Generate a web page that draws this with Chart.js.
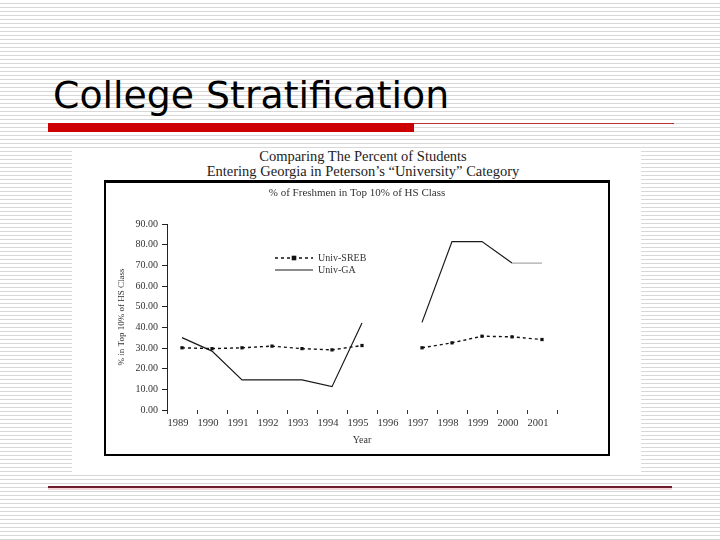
<!DOCTYPE html>
<html>
<head>
<meta charset="utf-8">
<script src="https://cdn.jsdelivr.net/npm/chart.js@4.4.0/dist/chart.umd.min.js"></script>
<style>
  html, body { margin: 0; padding: 0; }
  body {
    width: 720px; height: 540px; position: relative; overflow: hidden;
    background: repeating-linear-gradient(to bottom, #fff 0px, #fff 2.8px, #d8d8d8 2.8px, #d8d8d8 4px);
  }
  #title {
    position: absolute; left: 53px; top: 72px;
    font-family: "DejaVu Sans", sans-serif; font-size: 38px; line-height: 46px;
    color: #000; white-space: nowrap;
    transform-origin: left top; transform: scaleX(0.995);
  }
  #redbar { position: absolute; left: 48px; top: 123px; width: 366px; height: 9px; background: #cc0000; }
  #redline { position: absolute; left: 414px; top: 123px; width: 260px; height: 1px; background: #b83030; }
  #panel { position: absolute; left: 72px; top: 148px; width: 569px; height: 327px; background: #fff; }
  #heading {
    position: absolute; left: 63px; top: 149px; width: 600px; text-align: center;
    font-family: "Liberation Serif", serif; font-size: 14.5px; line-height: 14.5px; color: #222;
  }
  #box {
    position: absolute; left: 104px; top: 180px; width: 502px; height: 271px;
    border-style: solid; border-color: #000; border-width: 3px 2px 2px 2px; background: #fff;
  }
  #box div { position: relative; width: 502px; height: 271px; }
  #bottomline { position: absolute; left: 48px; top: 486px; width: 624px; height: 1.5px; background: #6b1f2c; }
  #bottompink { position: absolute; left: 48px; top: 487.5px; width: 624px; height: 2px; background: #f4d6da; }
</style>
</head>
<body>
<div id="title">College Stratification</div>
<div id="redbar"></div>
<div id="redline"></div>
<div id="panel"></div>
<div id="heading">Comparing The Percent of Students<br>Entering Georgia in Peterson’s “University” Category</div>
<div id="box"><div><canvas id="chart"></canvas></div></div>
<div id="bottomline"></div>
<div id="bottompink"></div>
<script>
// --- data ---
const years = ["1989", "1990", "1991", "1992", "1993", "1994", "1995", "1996", "1997", "1998", "1999", "2000", "2001"];
const univSREB = [30.1, 29.7, 30.1, 30.9, 29.7, 29.1, 31.2, null, 30.1, 32.5, 35.7, 35.4, 34.1];
const univGA = [35.0, 28.5, 14.6, 14.6, 14.6, 11.3, 42.1, null, 42.4, 81.5, 81.5, 71.1, 71.1];
const yMin = 0, yMax = 90, yStep = 10;

const serif = "'Liberation Serif', 'Times New Roman', serif";
const ink = "#333";

// legend drawn inside the plot, like the original
const insideLegend = {
  id: "insideLegend",
  afterDatasetsDraw(chart, args, opts) {
    const ctx = chart.ctx;
    const area = chart.chartArea;
    ctx.save();
    ctx.font = `${opts.fontSize}px ${serif}`;
    ctx.textBaseline = "middle";
    chart.data.datasets.forEach((ds, i) => {
      const x0 = area.left + opts.left;
      const x1 = x0 + opts.lineLength;
      const y = area.top + opts.top + i * opts.rowGap;
      ctx.strokeStyle = ds.borderColor;
      ctx.lineWidth = ds.borderWidth;
      ctx.setLineDash(ds.borderDash || []);
      ctx.beginPath();
      ctx.moveTo(x0, y);
      ctx.lineTo(x1, y);
      ctx.stroke();
      ctx.setLineDash([]);
      if (ds.pointRadius > 0) {
        ctx.fillStyle = ds.pointBackgroundColor;
        const r = ds.pointRadius;
        ctx.fillRect((x0 + x1) / 2 - r, y - r, r * 2, r * 2);
      }
      ctx.fillStyle = ink;
      ctx.fillText(ds.label, x1 + opts.textGap, y);
    });
    ctx.restore();
  }
};

new Chart(document.getElementById("chart"), {
  type: "line",
  data: {
    labels: years,
    datasets: [
      {
        label: "Univ-SREB",
        data: univSREB,
        borderColor: "#111",
        borderWidth: 1.4,
        borderDash: [3, 3],
        pointStyle: "rect",
        pointRadius: 2.3,
        pointBackgroundColor: "#111",
        pointBorderColor: "#111",
        pointBorderWidth: 0,
        spanGaps: false,
        tension: 0
      },
      {
        label: "Univ-GA",
        data: univGA,
        borderColor: "#1a1a1a",
        borderWidth: 1.2,
        pointRadius: 0,
        spanGaps: false,
        tension: 0,
        segment: {
          borderColor: c => (c.p1DataIndex === years.length - 1 ? "#aaa" : "#1a1a1a")
        }
      }
    ]
  },
  options: {
    responsive: true,
    maintainAspectRatio: false,
    animation: false,
    layout: { padding: 0 },
    plugins: {
      legend: { display: false },
      tooltip: { enabled: false },
      title: {
        display: true,
        text: "% of Freshmen in Top 10% of HS Class",
        color: ink,
        font: { family: serif, size: 11, weight: "normal" },
        padding: { top: 4, bottom: 23.8 }
      },
      insideLegend: { left: 108, top: 34, rowGap: 12, lineLength: 38, textGap: 5, fontSize: 10 }
    },
    scales: {
      x: {
        offset: true,
        border: { display: false },
        grid: { offset: true, drawOnChartArea: false, drawTicks: true, tickLength: 4, color: "#333" },
        ticks: { color: ink, font: { family: serif, size: 10.5 }, padding: 3, labelOffset: -4, maxRotation: 0, autoSkip: false },
        title: { display: true, text: "Year", color: ink, font: { family: serif, size: 10 }, padding: { top: 0, bottom: 8 } },
        afterFit: s => { s.height = 44; }
      },
      y: {
        min: yMin,
        max: yMax,
        border: { display: true, color: "#222", width: 1 },
        grid: { drawOnChartArea: false, drawTicks: true, tickLength: 5, color: "#222" },
        ticks: { stepSize: yStep, color: ink, font: { family: serif, size: 10 }, padding: 4, callback: v => v.toFixed(2) },
        title: { display: true, text: "% in Top 10% of HS Class", color: ink, font: { family: serif, size: 9 }, padding: { top: 10, bottom: 0 } },
        afterFit: s => { s.width = 61; }
      },
      // empty right-hand scale: keeps blank room right of the plot so the title stays centred in the box
      spacer: {
        position: "right",
        min: yMin,
        max: yMax,
        border: { display: false },
        grid: { display: false },
        ticks: { display: false },
        afterFit: s => { s.width = 51; }
      }
    }
  },
  plugins: [insideLegend]
});
</script>
</body>
</html>
